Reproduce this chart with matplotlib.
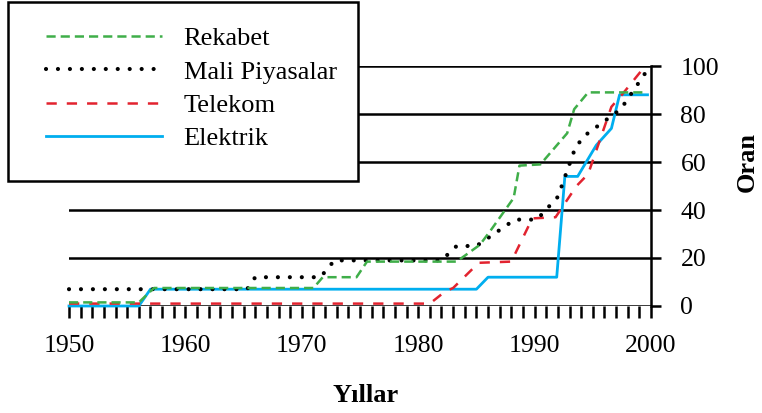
import numpy as np
import matplotlib.pyplot as plt
from matplotlib.patches import Rectangle

plt.rcParams['font.family'] = ['Liberation Serif', 'DejaVu Serif']
plt.rcParams['lines.scale_dashes'] = False

# --- data ---
series_names = ["Rekabet", "Mali Piyasalar", "Telekom", "Elektrik"]

rekabet_yil = [1950, 1956, 1957.3, 1971, 1971.8, 1974.7, 1975.6, 1983.3, 1985.3,
               1986.3, 1988.2, 1988.7, 1990.5, 1992.8, 1993.4, 1994.6, 1999.5]
rekabet_oran = [1.5, 1.5, 7.5, 7.5, 12, 12, 18.5, 18.5, 25.5,
                32, 45, 58.5, 59, 72, 82, 89, 89]

mali_yil = [1950, 1965.3, 1966, 1971.6, 1972.8, 1982, 1983.3, 1985, 1988.3,
            1990.2, 1992, 1993.5, 1994.3, 1997.4, 1999.5]
mali_oran = [7, 7, 12, 12, 19, 19, 25, 25, 36,
             36, 45.5, 66, 71, 82, 97]

telekom_yil = [1950, 1981, 1982.3, 1983, 1985.2, 1988, 1989.8, 1991.8, 1993.6,
               1994.6, 1996.6, 1997.5, 1999.5]
telekom_oran = [1, 1, 6, 7.5, 18, 18.5, 36.5, 37, 50,
                55, 83, 88, 100]

elektrik_yil = [1950, 1956, 1957, 1985, 1986, 1991.9, 1992.6, 1993.7, 1995.3,
                1996.6, 1997.3, 1999.7]
elektrik_oran = [0, 0, 7, 7, 12, 12, 54, 54, 67,
                 74, 88, 88]

x_major = [1950, 1960, 1970, 1980, 1990, 2000]
y_ticks = [0, 20, 40, 60, 80, 100]

W, H = 762, 413
fig = plt.figure(figsize=(W / 100, H / 100), dpi=100)
ax = fig.add_axes([69 / W, 107 / H, 582 / W, 240 / H])

l_elek, = ax.plot(elektrik_yil, elektrik_oran, color="#00aeef", lw=2.0,
                  clip_on=False, zorder=3)
l_tel, = ax.plot(telekom_yil, telekom_oran, color="#e2232f", lw=1.8,
                 dashes=(7.4, 7.2), clip_on=False, zorder=4)
l_mali, = ax.plot(mali_yil, mali_oran, color="black", lw=3.0,
                  dashes=(0.01, 8.6), dash_capstyle="round", clip_on=False, zorder=5)
l_rek, = ax.plot(rekabet_yil, rekabet_oran, color="#3fae49", lw=1.8,
                 dashes=(6.6, 3.6), clip_on=False, zorder=6)

ax.set_xlim(1950, 2000)
ax.set_ylim(0, 100)
ax.set_xticks(x_major)
ax.set_xticks(np.arange(1950, 2001, 1), minor=True)
ax.set_yticks(y_ticks)
ax.yaxis.tick_right()

for s in ["top", "left", "bottom"]:
    ax.spines[s].set_visible(False)
ax.spines["right"].set_linewidth(1.8)

ax.grid(axis="y", color="black", lw=1.8)
ax.set_axisbelow(True)
ax.tick_params(axis="x", which="both", direction="out", length=8.6, width=1.8,
               labelsize=18.5, pad=12)
ax.tick_params(axis="y", direction="out", length=7.2, width=1.8, labelsize=18.5,
               pad=14, right=True, left=False)

fig.text(366 / W, 1 - 396 / H, "Yıllar", fontsize=19, fontweight="bold",
         ha="center", va="center")
fig.text(747 / W, 1 - 162 / H, "Oran", fontsize=19, fontweight="bold",
         rotation=90, ha="center", va="center")

# legend box
box = Rectangle((8 / W, 1 - 181 / H), 350 / W, 179 / H, transform=fig.transFigure,
                facecolor="white", edgecolor="black", lw=1.8, zorder=2)
fig.patches.append(box)
leg = fig.legend([l_rek, l_mali, l_tel, l_elek], series_names, loc="upper left",
                 bbox_to_anchor=(45.7 / W, 1 - 27 / H), frameon=False, fontsize=19,
                 handlelength=4.4, handletextpad=0.83, labelspacing=0.37,
                 borderpad=0, borderaxespad=0)
leg.set_zorder(3)

fig.savefig("out.png", dpi=100)
